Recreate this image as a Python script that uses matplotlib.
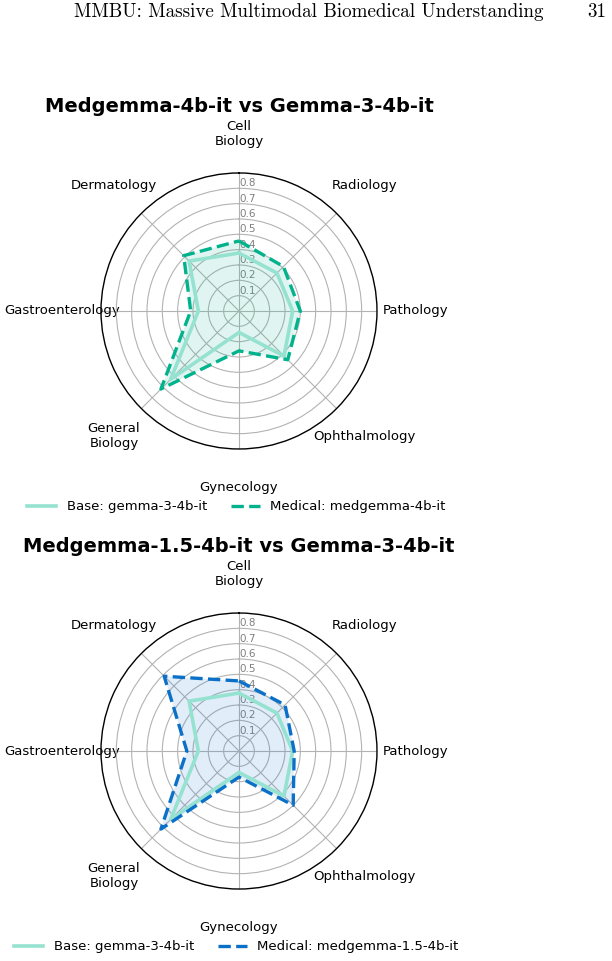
import numpy as np
import matplotlib
matplotlib.use("Agg")
import matplotlib.pyplot as plt

categories = ["Cell\nBiology", "Radiology", "Pathology", "Ophthalmology",
              "Gynecology", "General\nBiology", "Gastroenterology", "Dermatology"]

base_scores = [0.378, 0.35, 0.35, 0.415, 0.14, 0.63, 0.265, 0.46]
medgemma_scores = [0.457, 0.41, 0.40, 0.45, 0.26, 0.72, 0.315, 0.51]
medgemma15_scores = [0.457, 0.425, 0.36, 0.50, 0.17, 0.72, 0.34, 0.69]

base_name = "Base: gemma-3-4b-it"
panels = [
    ("Medgemma-4b-it vs Gemma-3-4b-it", "Medical: medgemma-4b-it", medgemma_scores, "#00b38c"),
    ("Medgemma-1.5-4b-it vs Gemma-3-4b-it", "Medical: medgemma-1.5-4b-it", medgemma15_scores, "#0a70c8"),
]
rticks = [0.1, 0.2, 0.3, 0.4, 0.5, 0.6, 0.7, 0.8]

base_color = "#95e2d0"

fig = plt.figure(figsize=(6.12, 9.61), dpi=100)

# page header (from the paper)
hdr_font = ["cmr10", "DejaVu Serif"]
fig.text(0.888, 0.987, "MMBU: Massive Multimodal Biomedical Understanding",
         ha="right", va="center", fontsize=13.7, family=hdr_font)
fig.text(0.99, 0.987, "31", ha="right", va="center", fontsize=13.7, family=hdr_font)

angles = np.linspace(0, 2 * np.pi, len(categories), endpoint=False)
closed = np.concatenate([angles, angles[:1]])

bottoms = [0.5328, 0.0749]
for (title, med_name, med, color), b in zip(panels, bottoms):
    ax = fig.add_axes([0.165, b, 0.451, 0.2872], projection="polar")
    ax.set_theta_offset(np.pi / 2)
    ax.set_theta_direction(-1)
    ax.set_ylim(0, 0.9)

    base_c = base_scores + base_scores[:1]
    med_c = med + med[:1]
    ax.plot(closed, base_c, color=base_color, lw=2.6, label=base_name, zorder=3)
    ax.plot(closed, med_c, color=color, lw=2.4, ls="--", label=med_name, zorder=4)
    ax.fill(closed, med_c, color=color, alpha=0.12, lw=0, zorder=2)

    ax.set_xticks(angles)
    ax.set_xticklabels(categories, fontsize=9.5)
    ax.tick_params(axis="x", pad=17.5)
    ax.set_yticks(rticks)
    ax.set_yticklabels([str(t) for t in rticks], fontsize=7.5, color="gray")
    ax.set_rlabel_position(0)
    ax.grid(color="#b3b3b3", lw=0.8)
    ax.spines["polar"].set_color("black")
    ax.spines["polar"].set_linewidth(1.0)

    ax.set_title(title, fontsize=14, fontweight="bold", y=1.19)
    ax.legend(loc="center", bbox_to_anchor=(0.49, -0.21), ncol=2, frameon=False,
              fontsize=9.5, handlelength=2.2, columnspacing=1.8)

fig.savefig("out.png", dpi=100)
